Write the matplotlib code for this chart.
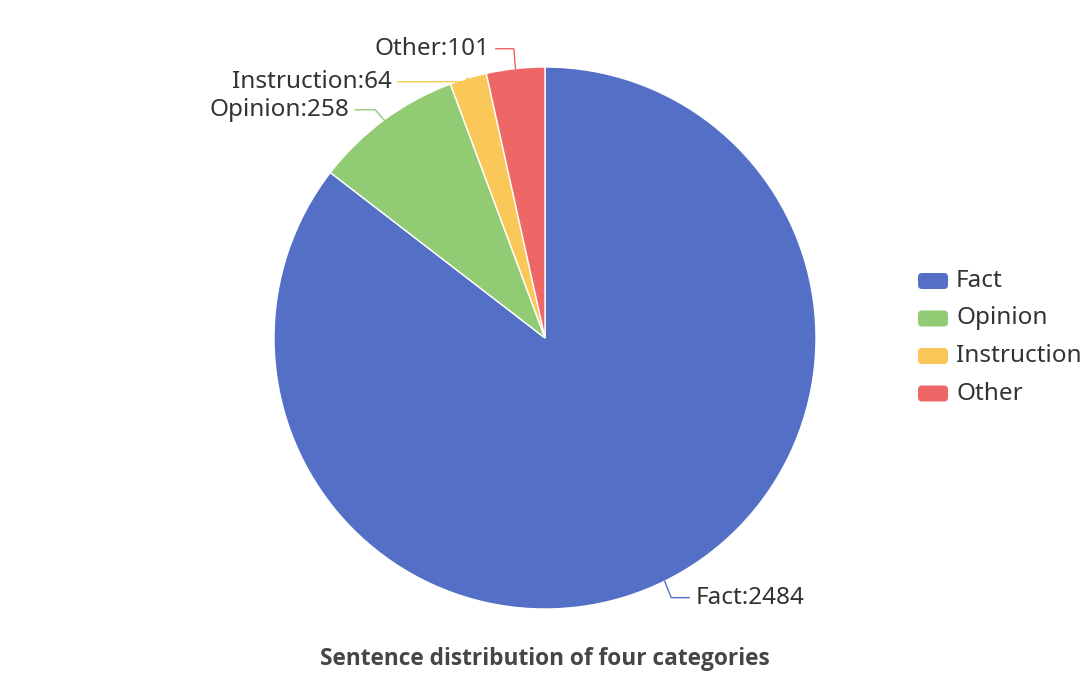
import numpy as np
import matplotlib
matplotlib.use('Agg')
import matplotlib.pyplot as plt
from matplotlib.patches import FancyBboxPatch

# data
categories = ['Fact', 'Opinion', 'Instruction', 'Other']
counts = [2484, 258, 64, 101]
colors = ['#5470c6', '#91cc75', '#fac858', '#ee6666']
title = 'Sentence distribution of four categories'

# label layout tweaks: elbow nudge (px, + = down) and extra leader length
label_nudge = [3, 2, 18, -5]
label_extra = [0, 2, 48, 0]

W, H = 1090, 677
plt.rcParams['font.family'] = ['Noto Sans', 'DejaVu Sans']

fig = plt.figure(figsize=(W / 100, H / 100), dpi=100)
ax = fig.add_axes([0, 0, 1, 1])

cx, cy, r = 545, H - 338, 271
wedges, _ = ax.pie(counts, colors=colors, startangle=90, counterclock=False,
                   center=(cx, cy), radius=r, frame=True,
                   wedgeprops=dict(edgecolor='white', linewidth=1))
ax.set_xlim(0, W)
ax.set_ylim(0, H)
ax.set_aspect('equal')
ax.axis('off')

# leader lines and labels
for w, name, val, col, nudge, extra in zip(wedges, categories, counts, colors,
                                           label_nudge, label_extra):
    ang = np.deg2rad((w.theta1 + w.theta2) / 2)
    ex, ey = cx + r * np.cos(ang), cy + r * np.sin(ang)
    bx, by = ex + 15 * np.cos(ang), ey + 15 * np.sin(ang) - nudge
    side = 1 if np.cos(ang) >= 0 else -1
    tx = bx + side * (18 + extra)
    ax.plot([ex, bx, tx], [ey, by, by], color=col, lw=1)
    ax.text(tx + side * 6, by, f'{name}:{val}', ha='left' if side > 0 else 'right',
            va='center', fontsize=17.5, color='#333333')

# legend
for i, (name, col) in enumerate(zip(categories, colors)):
    y = H - (281 + 37.5 * i)
    ax.add_patch(FancyBboxPatch((918, y - 8), 30, 16,
                                boxstyle='round,pad=0,rounding_size=4',
                                fc=col, ec='none'))
    ax.text(956, y, name, ha='left', va='center', fontsize=17.5, color='#333333')

ax.text(545, H - 659, title, ha='center', va='center', fontsize=16.3,
        fontweight='bold', color='#464646', family=['Open Sans', 'DejaVu Sans'])

fig.savefig('out.png', dpi=100)
